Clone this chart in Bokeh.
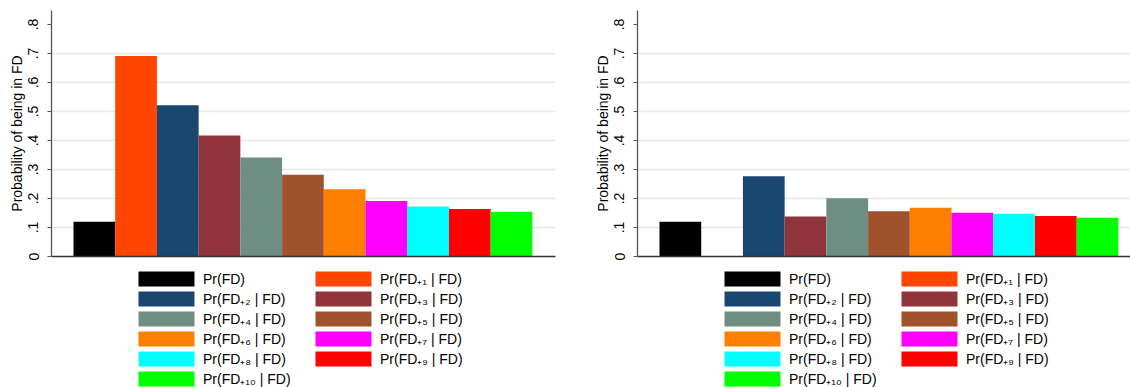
from bokeh.plotting import figure
from bokeh.models import (ColumnDataSource, Range1d, FixedTicker, Legend, LegendItem)
from bokeh.layouts import row, column
from bokeh.embed import file_html
from bokeh.resources import INLINE

# ---------------- data ----------------
labels = ["Pr(FD)", "Pr(FD\u208a\u2081 | FD)", "Pr(FD\u208a\u2082 | FD)", "Pr(FD\u208a\u2083 | FD)",
          "Pr(FD\u208a\u2084 | FD)", "Pr(FD\u208a\u2085 | FD)", "Pr(FD\u208a\u2086 | FD)",
          "Pr(FD\u208a\u2087 | FD)", "Pr(FD\u208a\u2088 | FD)", "Pr(FD\u208a\u2089 | FD)",
          "Pr(FD\u208a\u2081\u2080 | FD)"]
colors = ["#000000", "#ff4500", "#1a476f", "#90353b", "#6e8e84", "#a0522d",
          "#ff7f00", "#ff00ff", "#00ffff", "#ff0000", "#00ff00"]
left_values = [0.120, 0.691, 0.521, 0.417, 0.341, 0.282, 0.232, 0.191, 0.172, 0.164, 0.154]
right_values = [0.120, float("nan"), 0.277, 0.138, 0.201, 0.156, 0.168, 0.151, 0.147, 0.140, 0.134]
y_ticks = [0, 0.1, 0.2, 0.3, 0.4, 0.5, 0.6, 0.7, 0.8]
y_tick_labels = ["0", ".1", ".2", ".3", ".4", ".5", ".6", ".7", ".8"]
grid_ticks = [0.1, 0.2, 0.3, 0.4, 0.5, 0.6, 0.7]
y_title = "Probability of being in FD"

FONT = "Liberation Sans"
PX_PER_UNIT = 41.72
CHART_H = 266
LEG_H = 387 - CHART_H
# legend is filled column by column: two columns, row-wise order as in the source
legend_order = [0, 2, 4, 6, 8, 10, 1, 3, 5, 7, 9]


def make_panel(values, width, border_right):
    frame_w = width - 51 - border_right
    x0 = -1.027
    src = ColumnDataSource(dict(x=list(range(len(values))), top=values, color=colors, label=labels))

    p = figure(width=width, height=CHART_H, output_backend="svg", toolbar_location=None,
               x_range=Range1d(x0, x0 + frame_w / PX_PER_UNIT), y_range=Range1d(0, 0.848),
               min_border_left=51, min_border_right=border_right, min_border_top=10,
               min_border_bottom=CHART_H - 256)
    p.outline_line_color = None
    p.background_fill_color = "white"
    p.border_fill_color = "white"
    p.vbar(x="x", top="top", width=1.0, bottom=0, fill_color="color", line_color=None, source=src)

    # axes
    p.xaxis.ticker = FixedTicker(ticks=[])
    p.xaxis.major_label_text_font_size = "0px"
    p.xaxis.major_tick_line_color = None
    p.xaxis.minor_tick_line_color = None
    p.xaxis.major_tick_out = 0
    p.xaxis.major_label_standoff = 0
    p.xaxis.axis_label_standoff = 0
    p.xaxis.axis_line_color = "#333333"
    p.xaxis.axis_line_width = 1.5

    p.yaxis.ticker = FixedTicker(ticks=y_ticks)
    p.yaxis.major_label_overrides = {t: l for t, l in zip(y_ticks, y_tick_labels)}
    p.yaxis.major_label_orientation = "vertical"
    p.yaxis.major_label_text_font = FONT
    p.yaxis.major_label_text_font_size = "14px"
    p.yaxis.major_label_text_color = "black"
    p.yaxis.major_label_standoff = 9
    p.yaxis.major_tick_out = 4
    p.yaxis.major_tick_in = 0
    p.yaxis.minor_tick_line_color = None
    p.yaxis.axis_line_color = "#555555"
    p.yaxis.axis_line_width = 1.3
    p.yaxis.major_tick_line_color = "#555555"
    p.yaxis.axis_label = y_title
    p.yaxis.axis_label_text_font = FONT
    p.yaxis.axis_label_text_font_size = "14px"
    p.yaxis.axis_label_text_font_style = "normal"
    p.yaxis.axis_label_text_color = "black"
    p.yaxis.axis_label_standoff = 1

    p.xgrid.visible = False
    p.ygrid.ticker = FixedTicker(ticks=grid_ticks)
    p.ygrid.grid_line_color = "#e8e8e8"
    p.ygrid.grid_line_width = 1.5

    # legend area (own figure below the chart; its bars lie below its visible range)
    lg = figure(width=width, height=LEG_H, output_backend="svg", toolbar_location=None,
                x_range=Range1d(-1, 11), y_range=Range1d(5, 6),
                x_axis_location=None, y_axis_location=None,
                min_border_left=0, min_border_right=0, min_border_top=0, min_border_bottom=0)
    lg.grid.visible = False
    lg.outline_line_color = None
    r = lg.vbar(x="x", top="top", width=1.0, bottom=0, fill_color="color", line_color=None, source=src)
    items = [LegendItem(label=labels[i], renderers=[r], index=i) for i in legend_order]
    legend = Legend(items=items, location=(80, -1), orientation="vertical", ncols=2,
                    glyph_width=70, glyph_height=19, label_height=15, label_width=104,
                    label_standoff=2, spacing=1, padding=0, margin=0,
                    border_line_color=None, background_fill_alpha=0,
                    label_text_font=FONT, label_text_font_size="14px", label_text_color="black")
    lg.add_layout(legend)
    return column(p, lg, spacing=0)


left = make_panel(left_values, 586, 31)
right = make_panel(right_values, 544, 0)
layout = row(left, right, spacing=0)

open("out.html", "w").write(file_html(layout, INLINE))
